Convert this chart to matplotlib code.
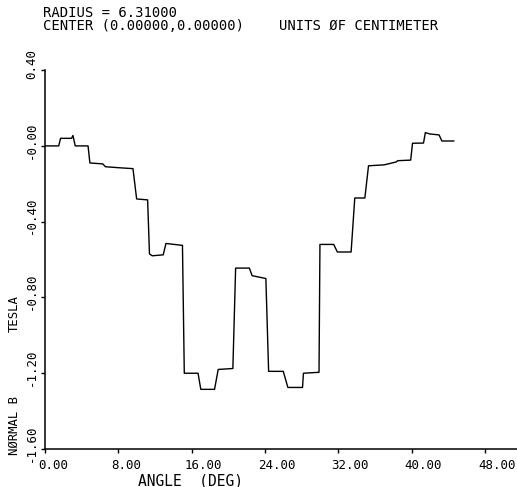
import matplotlib
import matplotlib.pyplot as plt
from matplotlib.transforms import ScaledTranslation

matplotlib.use("Agg")

# Normal component of B along the arc, sampled at the step corners.
angle_deg = [0.0, 1.5, 1.7, 2.9, 3.05, 3.3, 4.7, 4.9, 6.3, 6.6, 8.0, 9.6,
             10.0, 11.2, 11.4, 11.7, 12.9, 13.2, 15.0, 15.2, 16.7, 17.0,
             18.5, 18.9, 20.5, 20.8, 22.3, 22.6, 24.1, 24.4, 26.0, 26.5,
             28.1, 28.2, 29.9, 30.0, 31.5, 31.9, 33.4, 33.8, 34.9, 35.3,
             37.0, 38.3, 38.5, 39.9, 40.1, 41.3, 41.5, 42.0, 43.0, 43.3,
             44.6]
normal_b = [0.0, 0.0, 0.04, 0.04, 0.055, 0.0, 0.0, -0.09, -0.095, -0.11,
            -0.115, -0.12, -0.28, -0.285, -0.57, -0.58, -0.575, -0.515,
            -0.525, -1.2, -1.2, -1.285, -1.285, -1.18, -1.175, -0.645,
            -0.645, -0.685, -0.7, -1.19, -1.19, -1.275, -1.275, -1.2,
            -1.195, -0.52, -0.52, -0.56, -0.56, -0.275, -0.275, -0.105,
            -0.1, -0.085, -0.078, -0.075, 0.014, 0.015, 0.07, 0.063,
            0.058, 0.026, 0.026]

x_ticks = [0, 8, 16, 24, 32, 40, 48]
x_labels = ["0.00", "8.00", "16.00", "24.00", "32.00", "40.00", "48.00"]
y_ticks = [-1.6, -1.2, -0.8, -0.4, 0.0, 0.4]
y_labels = ["-1.60", "-1.20", "-0.80", "-0.40", "-0.00", "0.40"]

header = ["RADIUS = 6.31000", "CENTER (0.00000,0.00000)"]
units = "UNITS ØF CENTIMETER"

MONO = "DejaVu Sans Mono"
W, H = 517, 487


def px(x, y):
    """pixel position (from top-left) -> figure fraction"""
    return x / W, 1 - y / H


fig = plt.figure(figsize=(W / 100, H / 100), dpi=100)
ax = fig.add_axes([0.087, 0.078, 0.913, 0.778])

ax.plot(angle_deg, normal_b, color="black", lw=1.0)

ax.set_xlim(0, 51.5)
ax.set_ylim(-1.6, 0.4)
for side in ("top", "right"):
    ax.spines[side].set_visible(False)
for side in ("left", "bottom"):
    ax.spines[side].set_linewidth(1.1)

ax.set_xticks(x_ticks)
ax.set_xticklabels(x_labels, family=MONO, fontsize=9)
ax.set_yticks(y_ticks)
ax.set_yticklabels(y_labels, family=MONO, fontsize=9, rotation=90)
ax.tick_params(direction="out", length=3, width=1)
ax.tick_params(axis="x", pad=4)
ax.tick_params(axis="y", pad=2)

# plotter style: labels sit slightly off the tick
for lbl in ax.get_xticklabels():
    lbl.set_ha("left")
    lbl.set_transform(lbl.get_transform() + ScaledTranslation(-0.07, 0, fig.dpi_scale_trans))
for lbl in ax.get_yticklabels():
    lbl.set_va("center")
    lbl.set_transform(lbl.get_transform() + ScaledTranslation(0, 0.06, fig.dpi_scale_trans))

fig.text(*px(138, 485), "ANGLE  (DEG)", family=MONO, fontsize=10.5,
         ha="left", va="baseline")
fig.text(*px(8, 455), "NØRMAL B", family=MONO, fontsize=8.8,
         rotation=90, ha="left", va="bottom")
fig.text(*px(8, 332), "TESLA", family=MONO, fontsize=8.8,
         rotation=90, ha="left", va="bottom")

fig.text(*px(43, 17), header[0], family=MONO, fontsize=10, ha="left", va="baseline")
fig.text(*px(43, 29.5), header[1], family=MONO, fontsize=10, ha="left", va="baseline")
fig.text(*px(279, 29.5), units, family=MONO, fontsize=10, ha="left", va="baseline")

fig.savefig("out.png", dpi=100)
